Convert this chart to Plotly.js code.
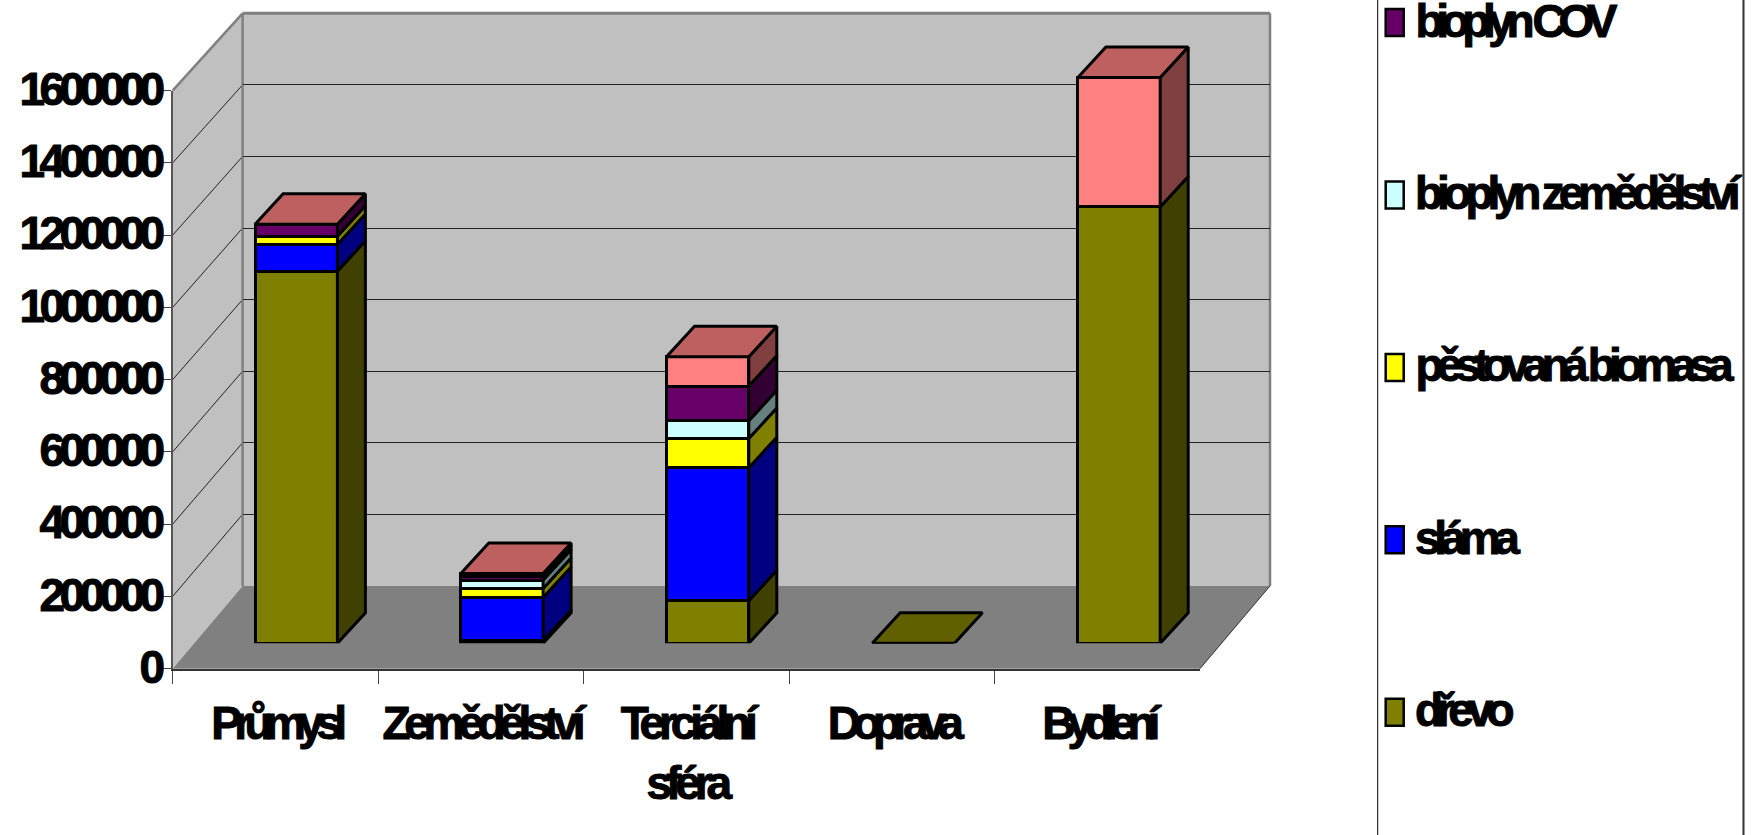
<!DOCTYPE html>
<html>
<head>
<meta charset="utf-8">
<script src="https://cdn.plot.ly/plotly-3.0.1.min.js"></script>
<style>
html,body{margin:0;padding:0;background:#fff;overflow:hidden}
.y3tick text{letter-spacing:-5.6px;stroke:#000;stroke-width:1px}
.x3tick text{letter-spacing:-6.8px;stroke:#000;stroke-width:1px}
g.x3tick:nth-of-type(1) text{letter-spacing:-7.6px}
g.x3tick:nth-of-type(2) text{letter-spacing:-6.3px}
g.x3tick:nth-of-type(3) text{letter-spacing:-6.1px}
g.x3tick:nth-of-type(4) text{letter-spacing:-8px}
g.x3tick:nth-of-type(5) text{letter-spacing:-8px}
.annotation-text{letter-spacing:-6.4px;stroke:#000;stroke-width:1px}
.annotation[data-index="0"] .annotation-text{letter-spacing:-7.4px}
.annotation[data-index="1"] .annotation-text{letter-spacing:-6.2px}
.annotation[data-index="2"] .annotation-text{letter-spacing:-6.8px}
</style>
</head>
<body>
<div id="chart" style="width:1753px;height:835px"></div>
<script>
// ---- data ----
var categories = ['Průmysl', 'Zemědělství', 'Terciální<br>sféra', 'Doprava', 'Bydlení'];
var drevo      = [1030000,   8000, 118000, 0, 1208000];
var slama      = [  74000, 119000, 368000, 0, 0];
var biomasa    = [  23000,  25000,  81000, 0, 0];
var bioplynZem = [      0,  23000,  49000, 0, 0];
var bioplynCov = [  33000,   9000,  96000, 0, 0];
var dalsi      = [      0,   9000,  81000, 0, 358000];
var seriesNames = ['dřevo', 'sláma', 'pěstovaná biomasa', 'bioplyn zemědělství', 'bioplyn COV', 'další'];
var seriesValues = [drevo, slama, biomasa, bioplynZem, bioplynCov, dalsi];
var frontColors = ['#808000', '#0000FF', '#FFFF00', '#CCFFFF', '#660066', '#FF8080'];
var sideColors  = ['#404000', '#000080', '#808000', '#668080', '#330033', '#804040'];
var topColors   = ['#606000', '#0000BF', '#BFBF00', '#99BFBF', '#4D004D', '#BF6060'];
var yTicks = [0, 200000, 400000, 600000, 800000, 1000000, 1200000, 1400000, 1600000];
var legendShown = [4, 3, 2, 1, 0];

// ---- geometry of the oblique 3-D box, in page pixels ----
var W = 1753, H = 835, yMax = 1600000;
var box = {fl: 172.6, fr: 1200, bl: 242.6, br: 1270, f0: 668.7, fT: 90.7, b0: 585.9, bT: 13.3};
var bars = {l: 193.4, r: 1221.9, y0: 643.3, yT: 13.3, perUnit: 578 / yMax, dx: 28, dy: 30.5, width: 0.4, line: 3};
var legendTextX = [1408.5, 1416, 1410.6, 1414, 1414];
var px = function (x) { return x / W; };
var py = function (y) { return 1 - y / H; };
var frontY = function (v) { return box.f0 + (box.fT - box.f0) * v / yMax; };
var backY  = function (v) { return box.b0 + (box.bT - box.b0) * v / yMax; };
var poly = function (pts) {
  return 'M' + pts.map(function (p) { return px(p[0]) + ',' + py(p[1]); }).join('L') + 'Z';
};
var paperLine = function (x0, y0, x1, y1, color, width) {
  return {type: 'line', xref: 'paper', yref: 'paper', layer: 'below',
    x0: px(x0), y0: py(y0), x1: px(x1), y1: py(y1), line: {color: color, width: width}};
};
var paperPoly = function (pts, fill) {
  return {type: 'path', xref: 'paper', yref: 'paper', layer: 'below', path: poly(pts),
    fillcolor: fill, line: {width: 0}};
};

var shapes = [
  paperPoly([[box.bl, box.bT], [box.br, box.bT], [box.br, box.b0], [box.bl, box.b0]], '#C0C0C0'),
  paperPoly([[box.fl, box.fT], [box.bl, box.bT], [box.bl, box.b0], [box.fl, box.f0]], '#C0C0C0'),
  paperPoly([[box.fl, box.f0], [box.bl, box.b0], [box.br, box.b0], [box.fr, box.f0]], '#808080')
];
yTicks.slice(1, -1).forEach(function (v) {
  shapes.push(paperLine(box.fl, frontY(v), box.bl, backY(v), '#222', 1));
});
shapes.push(paperLine(box.fl, box.fT, box.bl, box.bT, '#808080', 2.5));
shapes.push(paperLine(box.bl, box.bT, box.br, box.bT, '#808080', 3));
shapes.push(paperLine(box.bl, box.bT, box.bl, box.b0, '#808080', 2.5));
shapes.push(paperLine(box.br, box.bT, box.br, box.b0, '#808080', 2.5));
shapes.push(paperLine(box.fr, box.f0, box.br, box.b0, '#333', 1));
// legend frame (cut by the picture edges in the reference)
shapes.push(paperLine(1377.7, 0, 1377.7, H, '#000', 1));
shapes.push(paperLine(1743.5, 0, 1743.5, H, '#333', 2));

// ---- legend drawn by hand, as in the reference ----
var annotations = [];
legendShown.forEach(function (s, i) {
  var cy = 22.6 + i * 172.4;
  shapes.push({type: 'rect', xref: 'paper', yref: 'paper', layer: 'above',
    x0: px(1385.7), x1: px(1403.7), y0: py(cy - 13.5), y1: py(cy + 13.5),
    fillcolor: frontColors[s], line: {color: '#000', width: 2.5}});
  annotations.push({xref: 'paper', yref: 'paper', x: px(legendTextX[i]), y: py(cy - 2), xanchor: 'left', yanchor: 'middle',
    text: seriesNames[s], showarrow: false, borderpad: 0,
    font: {family: '"Liberation Sans", Arial, sans-serif', size: 46, color: '#000', weight: 700}});
});

// ---- traces ----
var idx = categories.map(function (_, i) { return i; });
var totals = idx.map(function (i) {
  return seriesValues.reduce(function (a, s) { return a + s[i]; }, 0);
});
var catW = (bars.r - bars.l) / categories.length;
var dxU = bars.dx / catW;
var dyU = bars.dy / bars.perUnit;
var halfW = bars.width / 2;

var traces = [];
traces.push({type: 'scatter', mode: 'none', x: idx, y: totals, xaxis: 'x', yaxis: 'y', hoverinfo: 'skip', showlegend: false});

// front faces: native stacked bars
seriesValues.forEach(function (vals, s) {
  traces.push({type: 'bar', name: seriesNames[s], x: idx, y: vals, xaxis: 'x2', yaxis: 'y2',
    width: bars.width, showlegend: false,
    marker: {color: frontColors[s], line: {color: '#000', width: bars.line}}});
});

// side faces: one closed parallelogram per stack segment
var base = idx.map(function () { return 0; });
seriesValues.forEach(function (vals, s) {
  var xs = [], ys = [];
  idx.forEach(function (i) {
    if (vals[i] > 0) {
      var xr = i + halfW, b = base[i], t = b + vals[i];
      xs.push(xr, xr + dxU, xr + dxU, xr, xr, null);
      ys.push(b, b + dyU, t + dyU, t, b, null);
    }
    base[i] += vals[i];
  });
  traces.push({type: 'scatter', mode: 'lines', x: xs, y: ys, xaxis: 'x2', yaxis: 'y2', fill: 'toself',
    fillcolor: sideColors[s], line: {color: '#000', width: bars.line}, hoverinfo: 'skip', showlegend: false, cliponaxis: false});
});

// top faces: colour of the last series, or the first series on an empty column
function topFace(cols, fill) {
  var xs = [], ys = [];
  cols.forEach(function (i) {
    var l = i - halfW, r = i + halfW, t = totals[i];
    xs.push(l, r, r + dxU, l + dxU, l, null);
    ys.push(t, t, t + dyU, t + dyU, t, null);
  });
  return {type: 'scatter', mode: 'lines', x: xs, y: ys, xaxis: 'x2', yaxis: 'y2', fill: 'toself',
    fillcolor: fill, line: {color: '#000', width: bars.line}, hoverinfo: 'skip', showlegend: false, cliponaxis: false};
}
traces.push(topFace(idx.filter(function (i) { return totals[i] > 0; }), topColors[5]));
traces.push(topFace(idx.filter(function (i) { return totals[i] === 0; }), topColors[0]));

traces.push({type: 'scatter', mode: 'none', x: categories, y: totals, xaxis: 'x3', yaxis: 'y3', hoverinfo: 'skip', showlegend: false});

var tickFont = {family: '"Liberation Sans", Arial, sans-serif', size: 46, color: '#000', weight: 700};

var layout = {
  width: W, height: H, autosize: false,
  margin: {l: 0, r: 0, t: 0, b: 0, pad: 0},
  paper_bgcolor: '#fff', plot_bgcolor: 'rgba(0,0,0,0)',
  barmode: 'stack', showlegend: false, hovermode: false,
  shapes: shapes, annotations: annotations,
  // back wall: native gridlines
  xaxis: {domain: [px(box.bl), px(box.br)], range: [-0.5, 4.5], visible: false, anchor: 'y', fixedrange: true},
  yaxis: {domain: [py(box.b0), py(box.bT)], range: [0, yMax], anchor: 'x', showline: false, zeroline: false,
    ticks: '', showticklabels: false, showgrid: true, gridcolor: '#222', gridwidth: 1,
    tickmode: 'array', tickvals: yTicks.slice(1, -1), fixedrange: true},
  // plane of the columns
  xaxis2: {domain: [px(bars.l), px(bars.r)], range: [-0.5, 4.5], visible: false, anchor: 'y2', fixedrange: true},
  yaxis2: {domain: [py(bars.y0), py(bars.yT)], range: [0, (bars.y0 - bars.yT) / bars.perUnit], visible: false, anchor: 'x2', fixedrange: true},
  // front edge: the visible axes
  xaxis3: {domain: [px(box.fl), px(box.fr)], type: 'category', categoryorder: 'array', categoryarray: categories,
    range: [-0.5, 4.5], anchor: 'y3', showgrid: false, zeroline: false, showline: true, linecolor: '#333', linewidth: 2,
    ticks: 'outside', tickson: 'boundaries', ticklen: 13, tickwidth: 1, tickcolor: '#444', tickfont: tickFont,
    tickangle: 0, ticklabelstandoff: 13, fixedrange: true},
  yaxis3: {domain: [py(box.f0), py(box.fT)], range: [0, yMax], anchor: 'x3', showgrid: false, zeroline: false,
    showline: true, linecolor: '#555', linewidth: 2, ticks: 'outside', ticklen: 8, tickwidth: 1, tickcolor: '#444',
    ticklabelstandoff: -6, ticklabelshift: -2,
    tickmode: 'array', tickvals: yTicks, ticktext: yTicks.map(String), tickfont: tickFont, fixedrange: true}
};

Plotly.newPlot('chart', traces, layout, {displayModeBar: false, staticPlot: true});
</script>
</body>
</html>
